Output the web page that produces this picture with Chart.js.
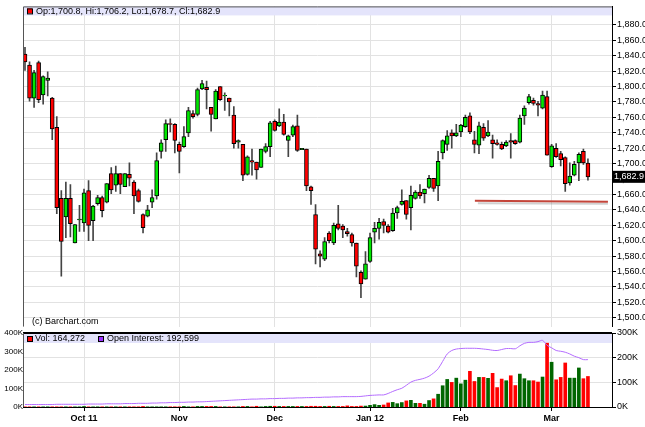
<!DOCTYPE html>
<html>
<head>
<meta charset="utf-8">
<script src="https://cdn.jsdelivr.net/npm/chart.js@4"></script>
<style>
  body { margin: 0; background: #fff; width: 645px; height: 427px; overflow: hidden; }
  #priceBox { position: absolute; left: 0; top: 0; width: 645px; height: 333px; }
  #volBox { position: absolute; left: 0; top: 321px; width: 645px; height: 106px; }
</style>
</head>
<body>
<div id="priceBox"><canvas id="priceChart" width="645" height="333"></canvas></div>
<div id="volBox"><canvas id="volChart" width="645" height="106"></canvas></div>
<script>
// Daily candles, oldest first
const opens = [1842,1828,1785,1831,1789,1808,1785,1747,1655,1631,1655,1597,1627,1623,1665,1626,1648,1656,1650,1687,
  1672,1687,1670,1686,1676,1665,1634,1632,1650,1658,1716,1731,1752,1751,1725,1722,1740,1765,1764,1797,
  1799,1773,1758,1800,1788,1785,1763,1728,1725,1686,1704,1702,1695,1716,1722,1755,1749,1754,1730,1737,
  1749,1718,1719,1670,1634,1583,1576,1610,1597,1622,1619,1612,1608,1597,1559,1550,1573,1611,1616,1625,
  1619,1613,1636,1647,1652,1643,1655,1663,1661,1669,1681,1671,1714,1725,1740,1736,1741,1748,1762,1731,
  1724,1747,1736,1731,1727,1725,1723,1730,1730,1728,1762,1779,1782,1778,1772,1787,1696,1720,1713,1708,
  1675,1685,1701,1716,1700.8];
const highs = [1851,1832,1821,1833,1814,1819,1786,1761,1665,1676,1673,1621,1646,1667,1678,1646,1659,1658,1674,1695,
  1697,1687,1687,1701,1678,1667,1635,1646,1666,1714,1731,1757,1758,1752,1728,1748,1773,1769,1798,1808,
  1807,1773,1796,1800,1792,1785,1774,1731,1725,1710,1719,1702,1719,1726,1755,1757,1771,1764,1737,1750,
  1763,1720,1719,1671,1647,1587,1604,1612,1623,1646,1621,1616,1610,1597,1561,1586,1610,1624,1629,1628,
  1621,1642,1645,1666,1652,1671,1665,1673,1667,1685,1681,1716,1731,1743,1744,1751,1751,1763,1766,1742,
  1754,1752,1756,1737,1731,1728,1730,1739,1731,1763,1775,1790,1785,1781,1794,1794,1725,1726,1716,1709,
  1701,1703,1714,1719,1706.2];
const lows = [1821,1781,1773,1779,1777,1788,1731,1635,1554,1604,1605,1597,1612,1612,1600,1600,1646,1631,1649,1661,
  1664,1661,1670,1671,1635,1650,1610,1631,1643,1654,1707,1716,1741,1714,1688,1721,1735,1759,1762,1796,
  1771,1742,1758,1782,1769,1762,1720,1720,1678,1685,1685,1680,1695,1714,1709,1742,1748,1737,1709,1735,
  1716,1718,1665,1647,1570,1566,1574,1597,1595,1614,1604,1606,1593,1553,1526,1550,1572,1597,1602,1610,
  1610,1612,1629,1646,1628,1614,1654,1655,1649,1668,1664,1652,1706,1717,1720,1735,1735,1747,1739,1714,
  1713,1730,1735,1707,1724,1718,1722,1707,1725,1727,1751,1777,1776,1762,1771,1711,1695,1708,1697,1664,
  1672,1684,1678,1699,1678.7];
const closes = [1832,1785,1818,1783,1813,1811,1745,1643,1599,1655,1622,1621,1628,1662,1620,1645,1656,1639,1674,1666,
  1687,1673,1687,1681,1658,1651,1617,1640,1656,1704,1727,1752,1751,1730,1716,1735,1769,1761,1796,1804,
  1796,1764,1794,1783,1788.5,1780,1726,1730,1685,1709,1702,1692,1719,1722,1753,1743,1754,1738,1736,1748,
  1717,1720,1671,1665,1589,1580,1599,1600,1620,1616,1614,1609,1597,1567,1544,1570,1604,1616,1624,1620,
  1611,1636,1643,1651,1634,1659,1663,1658,1667,1681,1668,1703,1730,1736,1736,1740,1750,1760,1741,1725,
  1749,1733,1741,1726,1725,1719,1728,1728,1726,1759,1772,1787,1778,1776,1789,1711,1723,1709,1705,1674,
  1684,1699,1712,1701,1682.9];

// Volume and open interest, thousands
const volumes = [1,1,1,1,1,1,1,1,1,1, 1,1,1,3,1,1,1,1,1,1, 1,1,1,1,1,1,3,1,1,1, 1,1,1,1,1,3,1,1,3,3,
  3,3,3,1,1,1,1,1,3,3, 1,4,1,3,4,4,3,3,3,3, 3,3,3,4,4,3,3,4,3,3, 3,6,3,3,
  5,5,9,13,9,11,22,25,18,24, 33,36,20,20,15,35,44,69,115,149, 133,156,125,145,193,138,160,160,155,182,
  105,151,142,169,116,178,153,142,142,135, 162,345,242,147,160,238,156,156,211,153, 165];
const openInterest = [10,10,10,10,10,10,10,11,11,11,11,11,11,11,
  12,12,12,12,13,13,13,13,14,14,14,15,15,15,16,16,17,17,18,18,19,
  19,20,20,21,21,22,23,24,25,26,27,28,29,30,31,32,32,33,33,34,34,
  35,35,36,36,37,37,38,38,39,39,40,40,41,41,42,42,42,42,43,45,47,
  48,49,49,55,63,70,76,88,101,108,112,117,125,138,155,185,215,229,235,237,238,238,238,237,235,233,230,229,
  233,237,237,236,248,258,262,262,265,270,250,240,229,226,222,215,206,200,192,192];

const monthPos = [14, 35, 56, 77, 97, 117];
const monthLabels = ['Oct 11', 'Nov', 'Dec', 'Jan 12', 'Feb', 'Mar'];
const priceTicks = [1500,1520,1540,1560,1580,1600,1620,1640,1660,1680,1700,1720,1740,1760,1780,1800,1820,1840,1860,1880];
const volTicks = [0, 100, 200, 300, 400];
const oiTicks = [0, 100, 200, 300];
const supportLevel = { value: 1652, from: 100.1, to: 129.4 };

const X_MIN = 0.56, X_MAX = 130.3;
const FONT = 'Liberation Sans, Arial, sans-serif';
const UP = '#00e600', DOWN = '#ff0000';

const isUp = closes.map((c, i) => c >= opens[i]);
const fmt = v => v.toLocaleString('en-US', { minimumFractionDigits: 1, maximumFractionDigits: 1 });

Chart.defaults.font.family = FONT;
Chart.defaults.font.size = 9;
Chart.defaults.color = '#000';

function monthTicks(scale) {
  scale.ticks = monthPos.map(v => ({ value: v }));
}

// Price panel extras: header band, frame, support line, last price tag
const pricePlugin = {
  id: 'priceExtras',
  beforeDatasetsDraw(chart) {
    const { ctx, chartArea: a } = chart;
    ctx.save();
    ctx.fillStyle = '#e4e4fb';
    ctx.fillRect(a.left, a.top, a.right - a.left, 9);
    ctx.restore();
  },
  afterDraw(chart) {
    const { ctx, chartArea: a, scales } = chart;
    const last = closes.length - 1;
    ctx.save();
    ctx.strokeStyle = '#555';
    ctx.lineWidth = 1;
    ctx.beginPath();
    ctx.moveTo(a.left + 0.5, a.bottom);
    ctx.lineTo(a.left + 0.5, a.top + 0.5);
    ctx.lineTo(a.right, a.top + 0.5);
    ctx.stroke();

    ctx.fillStyle = DOWN;
    ctx.fillRect(a.left + 4, a.top + 2, 5, 5);
    ctx.strokeStyle = '#000';
    ctx.strokeRect(a.left + 4.5, a.top + 2.5, 5, 5);
    ctx.fillStyle = '#000';
    ctx.font = '9px ' + FONT;
    ctx.textBaseline = 'middle';
    ctx.fillText('Op:' + fmt(opens[last]) + ', Hi:' + fmt(highs[last]) + ', Lo:' + fmt(lows[last]) + ', Cl:' + fmt(closes[last]), a.left + 13, a.top + 5);
    ctx.fillText('(c) Barchart.com', a.left + 9, 322);

    // hand-drawn support line
    const y = scales.y.getPixelForValue(supportLevel.value);
    const x1 = scales.x.getPixelForValue(supportLevel.from);
    const x2 = scales.x.getPixelForValue(supportLevel.to);
    ctx.strokeStyle = 'rgba(120,120,120,0.35)';
    ctx.lineWidth = 2;
    ctx.beginPath(); ctx.moveTo(x1 + 3, y + 2.5); ctx.lineTo(x2, y + 3); ctx.stroke();
    ctx.strokeStyle = '#c4453a';
    ctx.beginPath(); ctx.moveTo(x1, y); ctx.lineTo(x2, y + 1); ctx.stroke();

    // last price tag
    const ly = scales.y.getPixelForValue(closes[last]);
    ctx.fillStyle = '#000';
    ctx.fillRect(a.right, ly - 6, 33, 12);
    ctx.fillStyle = '#fff';
    ctx.fillText(fmt(closes[last]), a.right + 2, ly);
    ctx.restore();
  }
};

new Chart(document.getElementById('priceChart'), {
  type: 'bar',
  data: {
    datasets: [
      {
        data: closes.map((c, i) => ({ x: i + 1, y: [opens[i], c === opens[i] ? c + 0.5 : c] })),
        backgroundColor: isUp.map(u => u ? UP : DOWN),
        borderColor: '#000',
        borderWidth: 1,
        borderSkipped: false,
        barThickness: 4,
        grouped: false,
        order: 1
      },
      {
        data: highs.map((h, i) => ({ x: i + 1, y: [lows[i], h] })),
        backgroundColor: '#444',
        barThickness: 1,
        grouped: false,
        order: 2
      }
    ]
  },
  options: {
    responsive: false,
    animation: false,
    devicePixelRatio: 1,
    layout: { padding: { left: 23, top: 3 } },
    plugins: { legend: { display: false }, tooltip: { enabled: false } },
    scales: {
      x: {
        type: 'linear', min: X_MIN, max: X_MAX, offset: false,
        afterBuildTicks: monthTicks,
        afterFit: s => { s.height = 2; },
        ticks: { display: false },
        grid: { color: '#e2e2e2', drawTicks: false, offset: false },
        border: { display: false }
      },
      y: {
        position: 'right', min: 1488.6, max: 1904,
        afterBuildTicks: s => { s.ticks = priceTicks.map(v => ({ value: v })); },
        afterFit: s => { s.width = 33; },
        ticks: { callback: v => fmt(v), padding: 1 },
        grid: { color: '#e2e2e2', tickLength: 4, tickColor: '#000' },
        border: { color: '#000' }
      }
    }
  },
  plugins: [pricePlugin]
});

// Volume panel extras: legend band and top rule
const volPlugin = {
  id: 'volExtras',
  beforeDatasetsDraw(chart) {
    const { ctx, chartArea: a } = chart;
    ctx.save();
    ctx.fillStyle = '#e4e4fb';
    ctx.fillRect(a.left, a.top, a.right - a.left, 10);
    ctx.restore();
  },
  afterDraw(chart) {
    const { ctx, chartArea: a } = chart;
    ctx.save();
    ctx.strokeStyle = '#000';
    ctx.lineWidth = 2;
    ctx.beginPath(); ctx.moveTo(a.left, a.top); ctx.lineTo(a.right, a.top); ctx.stroke();
    ctx.lineWidth = 1;
    ctx.strokeStyle = '#555';
    ctx.beginPath(); ctx.moveTo(a.left + 0.5, a.top); ctx.lineTo(a.left + 0.5, a.bottom); ctx.stroke();

    ctx.font = '9px ' + FONT;
    ctx.textBaseline = 'middle';
    ctx.fillStyle = DOWN; ctx.fillRect(a.left + 4, a.top + 3, 5, 5);
    ctx.fillStyle = '#9b30ff'; ctx.fillRect(a.left + 75, a.top + 3, 5, 5);
    ctx.strokeStyle = '#000';
    ctx.strokeRect(a.left + 4.5, a.top + 3.5, 5, 5);
    ctx.strokeRect(a.left + 75.5, a.top + 3.5, 5, 5);
    ctx.fillStyle = '#000';
    ctx.fillText('Vol: 164,272', a.left + 12, a.top + 6);
    ctx.fillText('Open Interest: 192,599', a.left + 84, a.top + 6);
    ctx.restore();
  }
};

new Chart(document.getElementById('volChart'), {
  type: 'bar',
  data: {
    datasets: [
      {
        type: 'line',
        data: openInterest.map((v, i) => ({ x: i + 1, y: v })),
        yAxisID: 'yR',
        borderColor: '#b46cff',
        borderWidth: 1,
        pointRadius: 0,
        tension: 0.3,
        order: 0
      },
      {
        data: volumes.map((v, i) => ({ x: i + 1, y: v })),
        yAxisID: 'yL',
        backgroundColor: isUp.map(u => u ? '#006600' : DOWN),
        barThickness: 3,
        order: 1
      }
    ]
  },
  options: {
    responsive: false,
    animation: false,
    devicePixelRatio: 1,
    layout: { padding: { top: 12 } },
    plugins: { legend: { display: false }, tooltip: { enabled: false } },
    scales: {
      x: {
        type: 'linear', min: X_MIN, max: X_MAX, offset: false,
        afterBuildTicks: monthTicks,
        afterFit: s => { s.height = 20; },
        ticks: {
          font: { weight: 'bold', size: 9 },
          padding: 2,
          callback: v => monthLabels[monthPos.indexOf(v)]
        },
        grid: { color: '#e2e2e2', tickLength: 4, tickColor: '#000', offset: false },
        border: { color: '#000' }
      },
      yL: {
        position: 'left', min: 0, max: 400,
        afterBuildTicks: s => { s.ticks = volTicks.map(v => ({ value: v })); },
        afterFit: s => { s.width = 23; },
        ticks: { callback: v => v + 'K', padding: 0, font: { size: 8 } },
        grid: { display: false, drawTicks: false, tickLength: 0 },
        border: { display: false }
      },
      yR: {
        position: 'right', min: 0, max: 300,
        afterBuildTicks: s => { s.ticks = oiTicks.map(v => ({ value: v })); },
        afterFit: s => { s.width = 33; },
        ticks: { callback: v => v + 'K', padding: 1 },
        grid: { color: '#e2e2e2', tickLength: 4, tickColor: '#000' },
        border: { color: '#000' }
      }
    }
  },
  plugins: [volPlugin]
});
</script>
</body>
</html>
